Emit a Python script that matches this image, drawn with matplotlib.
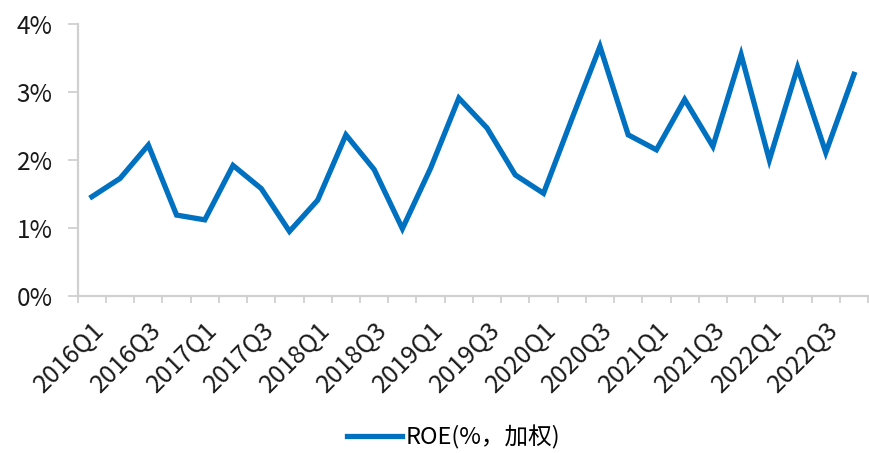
import matplotlib
matplotlib.use("Agg")
import matplotlib.pyplot as plt
import numpy as np

plt.rcParams['font.family'] = ['Noto Sans CJK SC', 'DejaVu Sans']

quarters = [f"{y}Q{q}" for y in range(2016, 2023) for q in range(1, 5)]
roe = [1.46, 1.73, 2.22, 1.19, 1.12, 1.92, 1.58, 0.95,
       1.41, 2.37, 1.86, 0.99, 1.88, 2.91, 2.47, 1.78,
       1.51, 2.60, 3.67, 2.37, 2.15, 2.89, 2.20, 3.55,
       2.00, 3.36, 2.11, 3.26]
yticks = [0, 1, 2, 3, 4]
ytick_labels = ["0%", "1%", "2%", "3%", "4%"]
legend_label = "ROE(%，加权)"

fig = plt.figure(figsize=(8.69, 4.53), dpi=100)
ax = fig.add_axes([0.0895, 0.3466, 0.9095, 0.6004])

x = np.arange(len(quarters))
ax.plot(x, roe, color="#0070C0", linewidth=3.8, solid_joinstyle="miter",
        label=legend_label)

ax.set_xlim(-0.5, len(quarters) - 0.5)
ax.set_ylim(0, 4)

ax.set_yticks(yticks)
ax.set_yticklabels(ytick_labels, fontsize=17.5, color="#1a1a1a")

ax.set_xticks(x[::2])
ax.set_xticklabels(quarters[::2], rotation=45, ha="right", va="top",
                   rotation_mode="anchor", fontsize=18, color="#1a1a1a")
ax.set_xticks(np.arange(-0.5, len(quarters) + 0.5, 1), minor=True)
ax.tick_params(axis="x", which="major", length=0, pad=15)
ax.tick_params(axis="x", which="minor", length=5, width=1.3, color="#d0d0d0")
ax.tick_params(axis="y", length=7, width=1.3, color="#d0d0d0", pad=11)

for s in ["top", "right"]:
    ax.spines[s].set_visible(False)
for s in ["left", "bottom"]:
    ax.spines[s].set_color("#d0d0d0")
    ax.spines[s].set_linewidth(1.6)

leg = fig.legend(loc="center", bbox_to_anchor=(0.522, 0.035), frameon=False,
                 fontsize=17, handlelength=2.3, handletextpad=0.15)

fig.savefig("out.png", dpi=100)
